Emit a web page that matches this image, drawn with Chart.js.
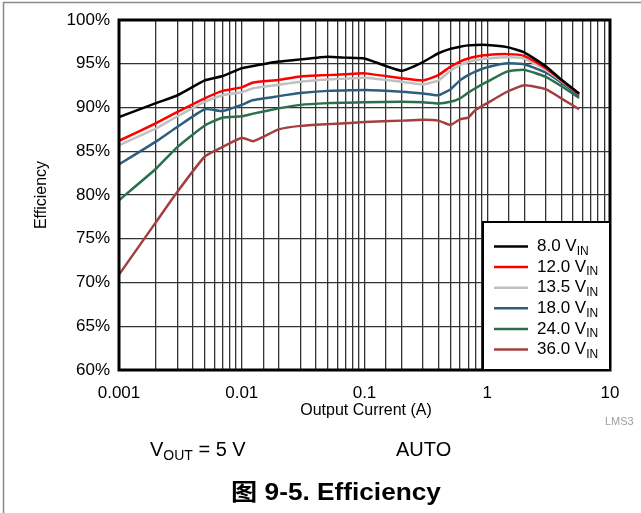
<!DOCTYPE html>
<html>
<head>
<meta charset="utf-8">
<script src="https://cdn.jsdelivr.net/npm/chart.js@4/dist/chart.umd.min.js"></script>
<style>
  html, body { margin: 0; padding: 0; background: #fff; }
  #wrap { position: relative; width: 641px; height: 513px; }
</style>
</head>
<body>
<div id="wrap"><canvas id="c" width="641" height="513"></canvas></div>
<script>
// Output current (A)
const currents = [0.001, 0.002, 0.003, 0.005, 0.007, 0.01, 0.0124, 0.02, 0.03, 0.05, 0.07, 0.1, 0.2, 0.3, 0.4, 0.5, 0.6, 0.7, 0.8, 1.0, 1.45, 2.0, 3.0, 4.0, 5.6];
// Efficiency (%) per input voltage
const eff8V   = [88.9, 90.5, 91.4, 93.1, 93.6, 94.5, 94.75, 95.25, 95.5, 95.8, 95.7, 95.6, 94.2, 95.2, 96.2, 96.7, 96.95, 97.1, 97.15, 97.15, 96.9, 96.3, 94.7, 93.2, 91.6];
const eff12V  = [86.2, 88.2, 89.5, 91.05, 91.9, 92.3, 92.85, 93.15, 93.55, 93.7, 93.8, 93.9, 93.35, 93.1, 93.7, 94.65, 95.25, 95.6, 95.8, 96.0, 96.1, 95.9, 94.5, 93.15, 91.55];
const eff13V5 = [85.7, 87.6, 89.0, 90.65, 91.4, 91.75, 92.2, 92.6, 92.95, 93.2, 93.3, 93.4, 92.95, 92.65, 93.1, 94.2, 94.85, 95.2, 95.4, 95.6, 95.75, 95.6, 94.3, 93.05, 91.55];
const eff18V  = [83.5, 86.1, 87.8, 89.8, 89.6, 90.3, 90.85, 91.3, 91.65, 91.9, 91.95, 92.0, 91.8, 91.6, 91.4, 92.05, 93.1, 93.7, 94.1, 94.6, 95.05, 94.95, 94.0, 92.85, 91.35];
const eff24V  = [79.4, 83.0, 85.5, 87.95, 88.85, 89.0, 89.3, 89.9, 90.3, 90.5, 90.55, 90.6, 90.65, 90.6, 90.45, 90.65, 91.05, 91.7, 92.2, 92.95, 94.1, 94.3, 93.5, 92.45, 91.1];
const eff36V  = [70.9, 76.9, 80.4, 84.4, 85.5, 86.55, 86.15, 87.5, 87.9, 88.1, 88.2, 88.35, 88.5, 88.6, 88.5, 88.0, 88.65, 88.85, 89.7, 90.5, 91.8, 92.55, 92.1, 91.05, 89.8];
const seriesVolts = ['8.0', '12.0', '13.5', '18.0', '24.0', '36.0'];
const seriesValues = [eff8V, eff12V, eff13V5, eff18V, eff24V, eff36V];
const seriesColors = ['#000000', '#ff0000', '#c0c0c0', '#2d5e7e', '#2b6f4c', '#a33f3f'];
const yTicks = [60, 65, 70, 75, 80, 85, 90, 95, 100];
const xDecades = [0.001, 0.01, 0.1, 1, 10];

const FONT = '"Liberation Sans", Arial, Helvetica, sans-serif';

const datasets = seriesValues.map((vals, k) => ({
  label: seriesVolts[k] + ' VIN',
  data: currents.map((c, i) => ({ x: c, y: vals[i] })),
  borderColor: seriesColors[k],
  backgroundColor: seriesColors[k],
  borderWidth: 2.5,
  pointRadius: 0,
  tension: 0.15,
  fill: false
}));

function isDecade(v) {
  const l = Math.log10(v);
  return Math.abs(l - Math.round(l)) < 1e-6;
}

const decorPlugin = {
  id: 'decor',
  afterDraw(chart) {
    const ctx = chart.ctx;
    const a = chart.chartArea;
    ctx.save();
    // outer figure frame
    ctx.strokeStyle = '#8a8a8a';
    ctx.lineWidth = 1.5;
    ctx.beginPath();
    ctx.moveTo(3.5, 513); ctx.lineTo(3.5, 2.5); ctx.lineTo(641, 2.5);
    ctx.stroke();

    // plot frame
    ctx.strokeStyle = '#000';
    ctx.lineWidth = 3;
    ctx.strokeRect(a.left, a.top, a.right - a.left, a.bottom - a.top);

    // legend
    const lx = 483, ly = 222, lw = a.right - lx, lh = a.bottom - ly;
    ctx.fillStyle = '#fff';
    ctx.fillRect(lx, ly, lw, lh);
    ctx.lineWidth = 2;
    ctx.strokeRect(lx, ly, lw, lh);
    ctx.textBaseline = 'middle';
    ctx.textAlign = 'left';
    chart.data.datasets.forEach((ds, k) => {
      const y = 246.5 + k * 20.6;
      ctx.strokeStyle = ds.borderColor;
      ctx.lineWidth = 2.5;
      ctx.beginPath(); ctx.moveTo(494, y); ctx.lineTo(528, y); ctx.stroke();
      ctx.fillStyle = '#000';
      ctx.font = '17px ' + FONT;
      const main = seriesVolts[k] + ' V';
      ctx.fillText(main, 537, y);
      const w = ctx.measureText(main).width;
      ctx.font = '12px ' + FONT;
      ctx.fillText('IN', 537 + w, y + 5);
    });

    // axis titles
    ctx.fillStyle = '#000';
    ctx.font = '16px ' + FONT;
    ctx.textAlign = 'center';
    ctx.textBaseline = 'middle';
    ctx.save();
    ctx.translate(42, 195);
    ctx.rotate(-Math.PI / 2);
    ctx.fillText('Efficiency', 0, 0);
    ctx.restore();
    ctx.font = '16px ' + FONT;
    ctx.fillText('Output Current (A)', 366, 411);

    // watermark
    ctx.fillStyle = '#a0a0a0';
    ctx.font = '11px ' + FONT;
    ctx.textAlign = 'left';
    ctx.fillText('LMS3', 605, 422);

    // conditions
    ctx.fillStyle = '#000';
    ctx.font = '20px ' + FONT;
    ctx.textAlign = 'left';
    let x = 150;
    ctx.fillText('V', x, 450);
    x += ctx.measureText('V').width;
    ctx.font = '14px ' + FONT;
    ctx.fillText('OUT', x, 456);
    x += ctx.measureText('OUT').width;
    ctx.font = '20px ' + FONT;
    ctx.fillText(' = 5 V', x, 450);
    ctx.fillText('AUTO', 396, 450);

    // caption
    ctx.font = 'bold 23px ' + FONT + ', "Noto Sans CJK SC"';
    ctx.textAlign = 'center';
    ctx.save();
    ctx.translate(336, 494);
    ctx.scale(1.14, 1);
    ctx.fillText('图 9-5. Efficiency', 0, 0);
    ctx.restore();
    ctx.restore();
  }
};

new Chart(document.getElementById('c'), {
  type: 'line',
  data: { datasets },
  options: {
    responsive: false,
    animation: false,
    devicePixelRatio: 1,
    layout: { padding: { left: 0, top: 20, right: 31, bottom: 0 } },
    plugins: { legend: { display: false }, tooltip: { enabled: false } },
    scales: {
      x: {
        type: 'logarithmic',
        min: 0.001,
        max: 10,
        afterFit(s) { s.height = 143; },
        border: { display: false },
        grid: { color: '#333', lineWidth: 1.3, drawTicks: false },
        ticks: {
          autoSkip: false,
          maxRotation: 0,
          padding: 13,
          color: '#000',
          font: { family: FONT, size: 17 },
          callback(v) {
            if (!isDecade(v)) return '';
            const d = xDecades.find(t => Math.abs(t - v) / t < 1e-6);
            return d !== undefined ? String(d) : '';
          }
        }
      },
      y: {
        type: 'linear',
        min: 60,
        max: 100,
        afterFit(s) { s.width = 119; },
        afterBuildTicks(s) { s.ticks = yTicks.map(v => ({ value: v })); },
        border: { display: false },
        grid: { color: '#333', lineWidth: 1.3, drawTicks: false },
        ticks: {
          padding: 9,
          color: '#000',
          font: { family: FONT, size: 17 },
          callback(v) { return v + '%'; }
        }
      }
    }
  },
  plugins: [decorPlugin]
});
</script>
</body>
</html>
